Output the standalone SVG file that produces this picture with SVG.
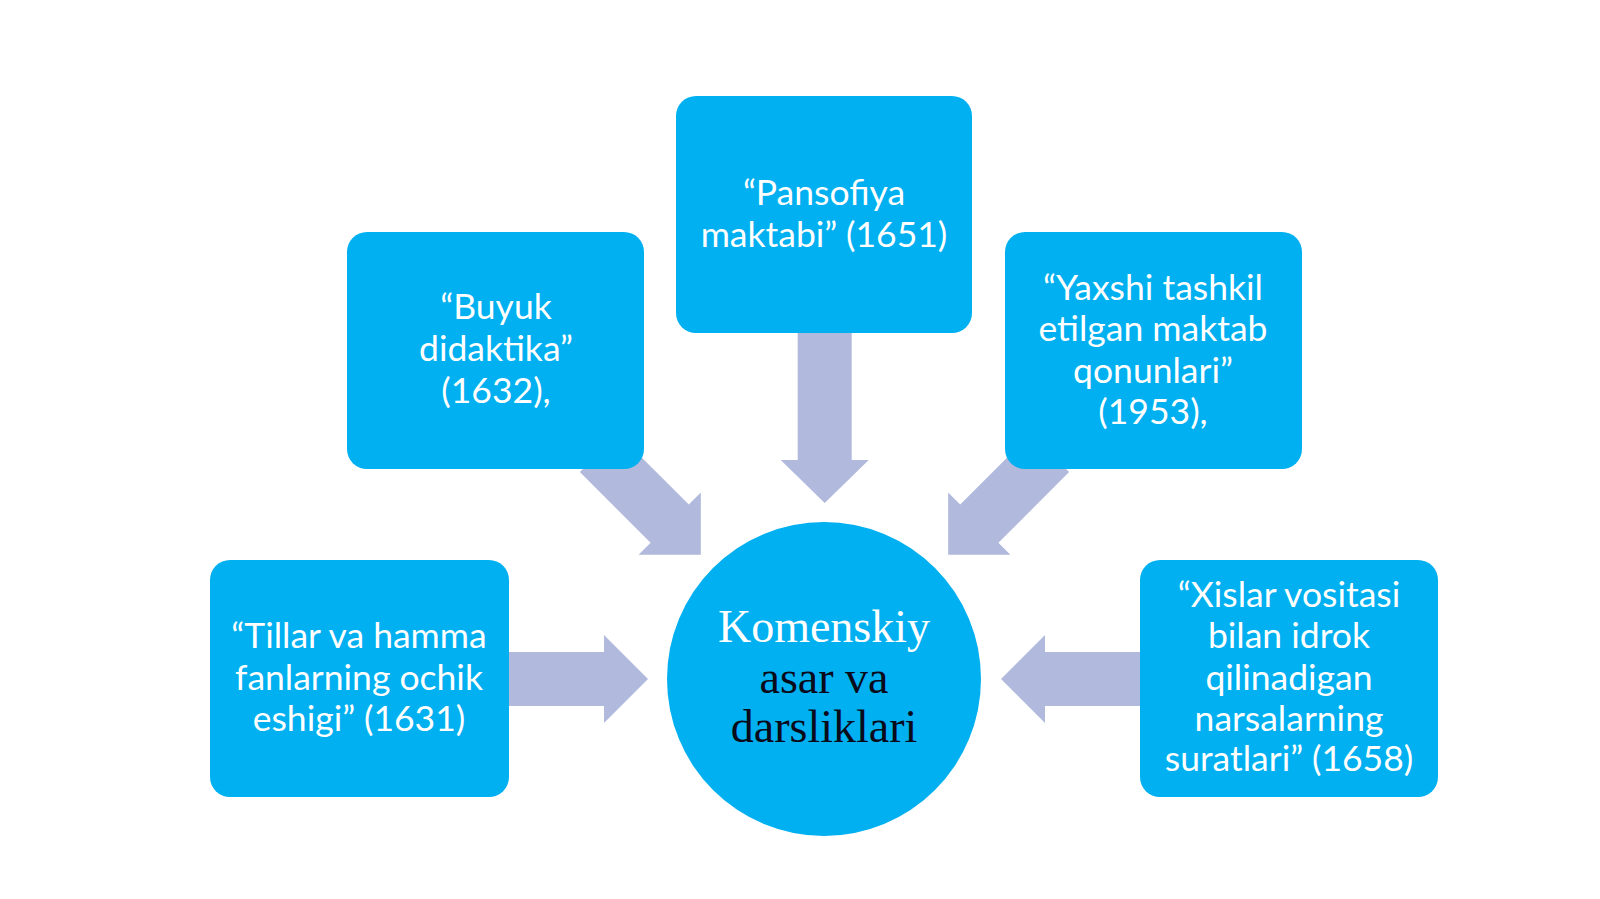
<svg xmlns="http://www.w3.org/2000/svg" width="1600" height="899" viewBox="0 0 1600 899">
<defs>
<style>
.box{fill:#00b0f0;}
.arr{fill:#b1b9dc;}
.t{font-family:Lato,"Open Sans","Liberation Sans",sans-serif;font-size:35.5px;fill:#ffffff;text-anchor:middle;}
.c{font-family:"Liberation Serif","Times New Roman",serif;font-size:46px;text-anchor:middle;}
</style>
<polygon id="arrowR" points="0,-27 100,-27 100,-44 144,0 100,44 100,27 0,27"/>
</defs>
<rect width="1600" height="899" fill="#ffffff"/>
<g id="connectors" class="arr">
<polygon points="797.7,333 851.7,333 851.7,460 868.7,460 824.7,503 780.7,460 797.7,460"/>
<use href="#arrowR" transform="translate(599,453) rotate(45)"/>
<use href="#arrowR" transform="translate(1050,453) rotate(135)"/>
<use href="#arrowR" transform="translate(504,679)"/>
<use href="#arrowR" transform="translate(1145,679) rotate(180)"/>
</g>
<g id="top">
<rect class="box" x="676" y="96" width="296" height="237" rx="20"/>
<text class="t" x="824" y="205">“Pansofiya</text>
<text class="t" x="824" y="247">maktabi” (1651)</text>
</g>
<g id="leftUpper">
<rect class="box" x="347" y="232" width="297" height="237" rx="20"/>
<text class="t" x="496" y="319">“Buyuk</text>
<text class="t" x="496" y="361">didaktika”</text>
<text class="t" x="496" y="403">(1632),</text>
</g>
<g id="rightUpper">
<rect class="box" x="1005" y="232" width="297" height="237" rx="20"/>
<text class="t" x="1153" y="300">“Yaxshi tashkil</text>
<text class="t" x="1153" y="341">etilgan maktab</text>
<text class="t" x="1153" y="383">qonunlari”</text>
<text class="t" x="1153" y="424">(1953),</text>
</g>
<g id="leftLower">
<rect class="box" x="210" y="560" width="299" height="237" rx="20"/>
<text class="t" x="359" y="648">“Tillar va hamma</text>
<text class="t" x="359" y="690">fanlarning ochik</text>
<text class="t" x="359" y="731">eshigi” (1631)</text>
</g>
<g id="rightLower">
<rect class="box" x="1140" y="560" width="298" height="237" rx="20"/>
<text class="t" x="1289" y="607">“Xislar vositasi</text>
<text class="t" x="1289" y="648">bilan idrok</text>
<text class="t" x="1289" y="690">qilinadigan</text>
<text class="t" x="1289" y="731">narsalarning</text>
<text class="t" x="1289" y="771">suratlari” (1658)</text>
</g>
<g id="center">
<circle class="box" cx="824" cy="679" r="157"/>
<text class="c" x="824" y="642" fill="#ffffff">Komenskiy</text>
<text class="c" x="824" y="693" fill="#0a0a1a">asar va</text>
<text class="c" x="824" y="742" fill="#0a0a1a">darsliklari</text>
</g>
</svg>
